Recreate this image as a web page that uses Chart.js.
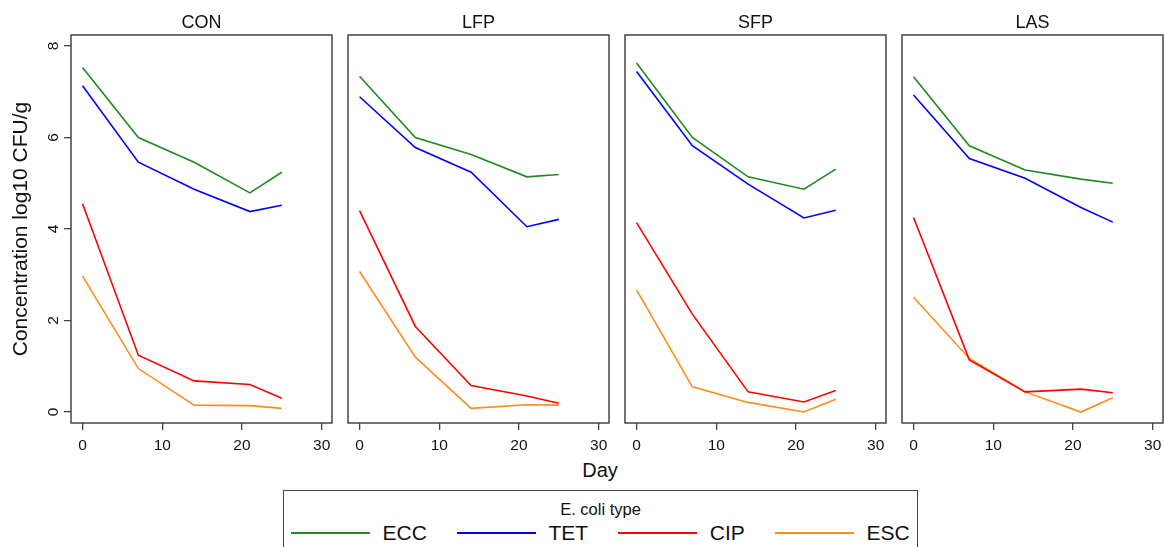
<!DOCTYPE html>
<html>
<head>
<meta charset="utf-8">
<script src="https://cdn.jsdelivr.net/npm/chart.js@4.4.1/dist/chart.umd.min.js"></script>
<style>
  html, body { margin: 0; padding: 0; background: #fff; }
  #wrap { position: relative; width: 1164px; height: 547px; overflow: hidden; font-family: 'Liberation Sans', Arial, sans-serif; color: #111; }
  #wrap canvas { position: absolute; top: 0; }
  #xtitle { position: absolute; left: 0; width: 1200px; top: 460px; font-size: 20px; line-height: 20px; text-align: center; }
  #legend { position: absolute; left: 283px; top: 490px; width: 635px; height: 90px; border: 1.5px solid #444; box-sizing: border-box; }
  #legend .ltitle { position: absolute; left: 0; right: 0; top: 9.5px; font-size: 16.5px; line-height: 16.5px; text-align: center; }
  #legend .items { position: absolute; left: 7px; top: 31px; display: flex; align-items: center; font-size: 21px; line-height: 21px; white-space: nowrap; }
  #legend .item { display: flex; align-items: center; margin-right: 30px; }
  #legend .swatch { width: 79px; height: 2px; margin-right: 12.6px; }
</style>
</head>
<body>
<div id="wrap">
  <div id="xtitle">Day</div>
  <div id="legend">
    <div class="ltitle">E. coli type</div>
    <div class="items" id="items"></div>
  </div>
</div>
<script>
// days sampled
const days = [0, 7, 14, 21, 25];
const panels = ["CON", "LFP", "SFP", "LAS"];
const seriesNames = ["ECC", "TET", "CIP", "ESC"];

// one row per panel (CON, LFP, SFP, LAS)
const ecc = [
  [7.53, 6.00, 5.46, 4.79, 5.24],
  [7.34, 6.00, 5.63, 5.14, 5.19],
  [7.63, 6.00, 5.14, 4.87, 5.31],
  [7.33, 5.82, 5.29, 5.09, 5.00],
];
const tet = [
  [7.13, 5.46, 4.87, 4.38, 4.52],
  [6.89, 5.78, 5.24, 4.05, 4.21],
  [7.44, 5.82, 4.98, 4.24, 4.41],
  [6.93, 5.54, 5.11, 4.47, 4.15],
];
const cip = [
  [4.55, 1.24, 0.68, 0.60, 0.30],
  [4.40, 1.87, 0.58, 0.35, 0.19],
  [4.14, 2.14, 0.44, 0.22, 0.47],
  [4.25, 1.14, 0.44, 0.50, 0.42],
];
const esc = [
  [2.97, 0.95, 0.15, 0.14, 0.08],
  [3.07, 1.20, 0.08, 0.16, 0.15],
  [2.67, 0.55, 0.21, 0.00, 0.28],
  [2.51, 1.17, 0.44, 0.00, 0.31],
];

const xTicks = [0, 10, 20, 30];
const yTicks = [0, 2, 4, 6, 8];

const seriesValues = [ecc, tet, cip, esc];
const seriesColors = ["#1f8a1f", "#0000ff", "#ff0000", "#ff8c1a"];

Chart.defaults.font.family = "'Liberation Sans', Arial, sans-serif";
Chart.defaults.color = "#111";

const AXIS_COLOR = "#444";
const PANEL_LEFT = 71;
const PANEL_STEP = 277;
const PANEL_W = 261;

const boxBorder = {
  id: "boxBorder",
  beforeDatasetsDraw(chart) {
    const { ctx, chartArea: a } = chart;
    ctx.save();
    ctx.strokeStyle = AXIS_COLOR;
    ctx.lineWidth = 1.5;
    ctx.strokeRect(a.left, a.top, a.right - a.left, a.bottom - a.top);
    ctx.restore();
  },
};

const wrap = document.getElementById("wrap");

panels.forEach((name, i) => {
  const canvas = document.createElement("canvas");
  canvas.width = PANEL_LEFT + PANEL_W + 3;
  canvas.height = 460;
  canvas.style.left = PANEL_STEP * i + "px";
  wrap.appendChild(canvas);

  const tickGrid = {
    drawOnChartArea: false,
    drawTicks: true,
    tickLength: 7,
    color: AXIS_COLOR,
    lineWidth: 1.3,
  };

  new Chart(canvas.getContext("2d"), {
    type: "line",
    data: {
      datasets: seriesNames.map((s, k) => ({
        label: s,
        data: days.map((d, j) => ({ x: d, y: seriesValues[k][i][j] })),
        borderColor: seriesColors[k],
        borderWidth: 1.6,
        pointRadius: 0,
        tension: 0,
        fill: false,
      })),
    },
    options: {
      responsive: false,
      animation: false,
      devicePixelRatio: 1,
      layout: { padding: { left: 0, right: 3, top: 0, bottom: 0 } },
      plugins: {
        legend: { display: false },
        tooltip: { enabled: false },
        title: {
          display: true,
          text: name,
          fullSize: false,
          color: "#111",
          font: { size: 18, weight: "normal" },
          padding: { top: 12, bottom: 1.4 },
        },
      },
      scales: {
        x: {
          type: "linear",
          min: -1.45,
          max: 31.3,
          afterBuildTicks: (s) => { s.ticks = xTicks.map((v) => ({ value: v })); },
          afterFit: (s) => { s.height = 37; s.paddingLeft = 0; s.paddingRight = 0; },
          grid: tickGrid,
          border: { display: false },
          ticks: { font: { size: 15.5 }, color: "#111", padding: 6, maxRotation: 0, autoSkip: false },
        },
        y: {
          // only the first panel shows the axis; the others keep the same space empty
          display: i === 0,
          min: -0.24,
          max: 8.24,
          afterBuildTicks: (s) => { s.ticks = yTicks.map((v) => ({ value: v })); },
          afterFit: (s) => { s.width = PANEL_LEFT; s.paddingTop = 0; s.paddingBottom = 0; },
          grid: tickGrid,
          border: { display: false },
          ticks: {
            font: { size: 15.5 },
            color: "#111",
            minRotation: 90,
            maxRotation: 90,
            crossAlign: "center",
            padding: 6,
          },
          title: {
            display: true,
            text: "Concentration log10 CFU/g",
            color: "#111",
            font: { size: 21 },
            padding: { top: 9, bottom: 0 },
          },
        },
      },
    },
    plugins: [boxBorder],
  });
});

// legend built from the series names/colours
const items = document.getElementById("items");
seriesNames.forEach((s, k) => {
  const it = document.createElement("div");
  it.className = "item";
  const sw = document.createElement("span");
  sw.className = "swatch";
  sw.style.background = seriesColors[k];
  const tx = document.createElement("span");
  tx.textContent = s;
  it.appendChild(sw);
  it.appendChild(tx);
  items.appendChild(it);
});
</script>
</body>
</html>
